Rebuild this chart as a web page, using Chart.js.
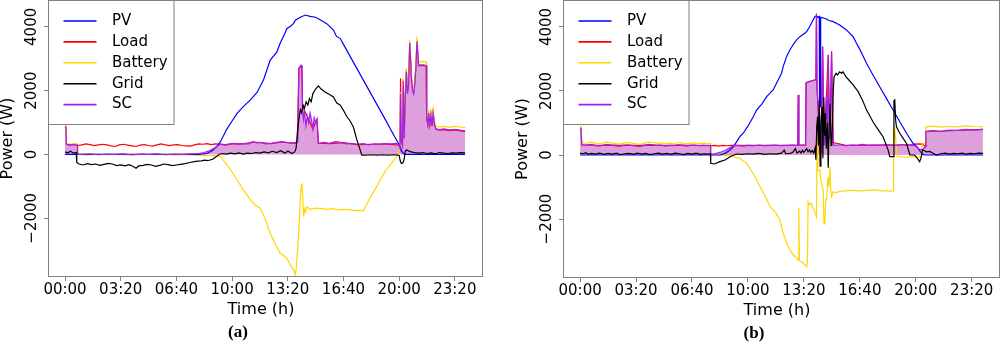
<!DOCTYPE html>
<html>
<head>
<meta charset="utf-8">
<script src="https://cdn.jsdelivr.net/npm/chart.js@4.4.0/dist/chart.umd.min.js"></script>
<style>
html, body { margin: 0; padding: 0; background: #fff; }
#wrap { position: relative; width: 1000px; height: 345px; }
.panel { position: absolute; top: 0; width: 500px; height: 345px; }
</style>
</head>
<body>
<div id="wrap">
  <div class="panel" style="left:0"><canvas id="chartA" width="500" height="345"></canvas></div>
  <div class="panel" style="left:500px"><canvas id="chartB" width="500" height="345"></canvas></div>
</div>
<script>
// time in minutes since midnight, power in W
const timeTicks = [0, 200, 400, 600, 800, 1000, 1200, 1400];
const powerTicks = [-2000, 0, 2000, 4000];
const seriesNames = ['PV', 'Load', 'Battery', 'Grid', 'SC'];
const seriesColors = ['#0000FF', '#FF0000', '#FFD700', '#000000', '#A020F0'];
const drawOrder = [2, 4, 3, 0, 1];   // lower = drawn on top
const scFill = '#DDA0DD';

// ---- panel (a) ----
const pvA = [[0,0],[100,0],[200,0],[300,0],[400,0],[480,0],[510,30],[530,120],[545,250],[558,400],[570,600],[580,780],[600,1050],[618,1290],[640,1500],[666,1710],[690,1950],[713,2340],[737,2960],[760,3200],[773,3490],[790,3800],[797,3950],[810,4020],[821,4110],[827,4210],[845,4300],[863,4370],[880,4330],[900,4300],[916,4220],[940,4100],[964,3900],[975,3700],[988,3640],[1000,3450],[1030,2980],[1060,2510],[1090,2040],[1120,1570],[1150,1100],[1180,620],[1197,350],[1205,200],[1212,60],[1220,0],[1300,0],[1437,0]];
const loadA = [[0,900],[3,880],[5,330],[15,290],[30,320],[45,280],[60,300],[75,330],[90,310],[105,280],[120,300],[135,320],[150,300],[165,270],[180,250],[195,300],[210,320],[225,290],[240,270],[255,250],[270,290],[285,310],[300,280],[315,260],[330,300],[345,330],[360,300],[375,280],[390,300],[405,310],[420,280],[435,270],[450,260],[465,300],[480,330],[495,320],[510,340],[525,310],[540,330],[558,320],[575,290],[605,340],[640,330],[675,390],[705,370],[740,340],[780,390],[820,350],[834,400],[840,2700],[851,2750],[853,1500],[870,1200],[890,800],[905,1100],[910,350],[950,340],[1000,370],[1050,310],[1100,320],[1150,330],[1200,290],[1203,200],[1205,2390],[1208,450],[1212,300],[1215,2350],[1218,520],[1222,1850],[1226,2620],[1230,1950],[1234,2250],[1238,3480],[1241,3000],[1244,2450],[1248,2050],[1252,1950],[1256,2250],[1260,2700],[1264,3500],[1267,3150],[1270,2780],[1285,2790],[1297,2770],[1299,1130],[1303,940],[1306,1280],[1310,940],[1314,1230],[1318,890],[1322,1280],[1327,940],[1332,790],[1345,760],[1360,780],[1380,750],[1400,770],[1420,740],[1437,720]];
const batA = [[0,900],[3,870],[5,350],[20,320],[40,340],[44,330],[46,0],[80,-20],[120,10],[160,-10],[200,0],[240,-20],[280,10],[320,-10],[360,0],[400,-20],[440,-10],[480,-30],[520,-40],[545,-30],[558,-70],[580,-300],[600,-550],[618,-800],[640,-1100],[666,-1430],[685,-1600],[702,-1690],[720,-2050],[737,-2470],[755,-2800],[773,-3100],[790,-3200],[797,-3260],[809,-3460],[820,-3600],[824,-3700],[827,-3780],[830,-3600],[836,-2900],[842,-2000],[846,-1200],[849,-950],[851,-900],[854,-1400],[857,-1950],[860,-1700],[864,-1800],[869,-1640],[880,-1720],[900,-1680],[916,-1690],[940,-1720],[960,-1700],[980,-1740],[1000,-1720],[1020,-1730],[1040,-1750],[1060,-1760],[1071,-1770],[1090,-1450],[1110,-1150],[1132,-800],[1150,-520],[1170,-300],[1191,-70],[1200,150],[1203,260],[1205,1950],[1208,480],[1212,380],[1215,2380],[1218,580],[1222,1900],[1226,2700],[1230,2000],[1234,2300],[1238,3600],[1241,3100],[1244,2500],[1248,2100],[1252,2000],[1256,2300],[1260,2800],[1264,3700],[1267,3300],[1270,2900],[1285,2920],[1297,2900],[1299,1250],[1303,1050],[1306,1400],[1310,1050],[1314,1350],[1318,1000],[1322,1400],[1327,1050],[1332,880],[1345,860],[1360,880],[1380,850],[1400,880],[1420,860],[1437,840]];
const gridA = [[0,80],[10,50],[20,100],[30,40],[40,60],[42,-250],[50,-300],[65,-330],[80,-290],[95,-320],[110,-300],[125,-340],[140,-310],[155,-280],[170,-300],[185,-350],[200,-330],[215,-360],[230,-320],[245,-380],[255,-430],[265,-360],[280,-340],[295,-310],[310,-330],[325,-370],[340,-340],[355,-300],[370,-320],[385,-350],[400,-330],[415,-310],[430,-290],[445,-260],[460,-230],[475,-210],[490,-200],[500,-180],[515,-190],[530,-150],[545,-60],[553,0],[565,30],[580,10],[595,40],[610,20],[625,50],[640,10],[655,40],[670,30],[685,60],[700,40],[715,80],[730,50],[745,100],[760,60],[775,120],[790,40],[800,110],[815,30],[825,80],[830,200],[835,700],[840,1100],[845,1400],[850,1300],[855,1550],[860,1450],[866,1650],[872,1550],[878,1750],[884,1650],[890,1900],[900,2050],[910,2150],[920,2050],[935,1950],[950,1880],[964,1800],[976,1610],[988,1550],[1000,1380],[1012,1190],[1024,1050],[1036,850],[1048,460],[1058,200],[1066,-20],[1080,-20],[1100,-10],[1120,-20],[1140,-10],[1160,-20],[1180,-10],[1195,-20],[1200,-30],[1204,-200],[1208,-280],[1214,-260],[1218,-150],[1222,100],[1226,140],[1240,90],[1255,60],[1270,40],[1285,60],[1300,30],[1315,50],[1330,20],[1345,60],[1360,40],[1375,30],[1390,50],[1405,40],[1420,60],[1437,50]];
const scA = [[0,870],[3,850],[5,320],[15,300],[25,310],[35,290],[44,300],[45,10],[60,0],[90,20],[120,-10],[150,10],[180,0],[210,20],[240,-10],[270,10],[300,0],[330,20],[360,-10],[390,10],[420,0],[450,20],[480,30],[500,60],[520,120],[540,220],[558,330],[575,300],[590,330],[605,350],[620,320],[640,340],[660,330],[675,400],[690,360],[705,380],[720,330],[740,350],[760,380],[780,400],[800,370],[820,360],[830,340],[836,400],[840,2700],[848,2800],[851,2750],[853,1500],[856,1100],[860,1350],[865,900],[870,1200],[875,1000],[880,1300],[885,1100],[890,800],[895,1150],[900,1000],[905,1100],[910,350],[930,380],[950,350],[970,400],[990,380],[1010,330],[1030,350],[1050,320],[1070,340],[1090,300],[1110,330],[1130,320],[1150,340],[1170,330],[1190,350],[1200,300],[1203,200],[1205,1900],[1208,400],[1212,300],[1215,2300],[1218,500],[1222,1800],[1226,2600],[1230,1900],[1234,2200],[1238,3500],[1241,3000],[1244,2400],[1248,2000],[1252,1900],[1256,2200],[1260,2700],[1264,3550],[1267,3200],[1270,2800],[1285,2810],[1297,2790],[1299,1150],[1303,950],[1306,1300],[1310,950],[1314,1250],[1318,900],[1322,1300],[1327,950],[1332,800],[1345,780],[1360,800],[1380,770],[1400,790],[1420,760],[1437,740]];

// ---- panel (b) ----
const pvB = [[0,0],[100,0],[200,0],[300,0],[400,0],[500,0],[520,60],[535,150],[548,260],[560,420],[571,572],[583,680],[600,900],[619,1197],[631,1406],[650,1600],[667,1822],[690,2031],[700,2200],[714,2447],[720,2553],[726,2760],[738,3072],[750,3281],[762,3450],[774,3594],[786,3697],[803,3803],[810,3853],[820,4000],[833,4219],[839,4322],[845,4350],[850,4300],[855,4330],[856,1550],[858,1500],[860,4300],[870,4280],[880,4250],[890,4200],[905,4166],[928,4063],[952,3906],[976,3697],[988,3490],[1000,3300],[1024,2866],[1047,2500],[1071,2134],[1095,1770],[1119,1406],[1143,1040],[1167,678],[1190,366],[1205,250],[1215,120],[1225,20],[1235,0],[1300,0],[1440,0]];
const loadB = [[0,860],[3,850],[6,320],[60,300],[120,310],[180,300],[240,310],[300,300],[360,310],[420,300],[466,300],[467,290],[480,300],[495,280],[510,300],[525,290],[540,300],[548,300],[600,300],[700,300],[778,300],[780,1880],[782,310],[806,310],[808,2260],[843,2360],[845,4420],[847,2100],[860,60],[867,3390],[873,310],[887,3130],[893,510],[899,3240],[905,390],[950,300],[1050,310],[1150,320],[1190,320],[1196,340],[1210,350],[1225,340],[1234,260],[1236,740],[1300,750],[1440,800]];
const batB = [[0,900],[3,880],[6,380],[20,360],[35,400],[50,380],[65,350],[80,370],[95,400],[110,380],[125,360],[140,340],[155,370],[170,390],[185,370],[200,350],[215,340],[230,370],[245,400],[260,390],[275,370],[290,380],[305,350],[320,370],[335,360],[350,390],[365,370],[380,350],[395,370],[410,380],[425,360],[440,370],[455,360],[466,370],[467,60],[480,20],[500,0],[520,-10],[540,-20],[548,-40],[560,-80],[571,-104],[595,-260],[620,-600],[643,-990],[660,-1250],[679,-1615],[700,-1800],[714,-2031],[725,-2400],[738,-2760],[750,-2950],[762,-3125],[772,-3200],[780,-3280],[782,-1650],[784,-3300],[792,-3334],[800,-3400],[806,-3450],[810,-3490],[813,-3300],[815,-1460],[820,-1550],[825,-1500],[833,-1660],[840,-1800],[845,-1930],[847,500],[850,-500],[857,-470],[863,-900],[869,-1094],[872,-2150],[875,-2134],[878,-1400],[881,-1406],[886,-700],[889,-1000],[893,-365],[896,-1100],[899,-1303],[905,-1150],[915,-1180],[930,-1130],[950,-1120],[970,-1100],[990,-1110],[1010,-1120],[1030,-1100],[1050,-1090],[1070,-1110],[1090,-1120],[1110,-1130],[1119,-1120],[1121,600],[1124,880],[1128,500],[1133,-40],[1140,-60],[1160,-70],[1180,-60],[1200,-60],[1214,-50],[1220,120],[1225,370],[1234,360],[1236,880],[1260,900],[1290,870],[1320,890],[1350,880],[1380,910],[1410,890],[1440,880]];
const gridB = [[0,60],[10,40],[20,70],[30,20],[40,50],[55,30],[70,60],[85,20],[100,50],[115,30],[130,60],[145,10],[160,40],[175,50],[190,20],[205,60],[220,30],[235,50],[250,10],[265,40],[280,60],[295,30],[310,50],[325,20],[340,60],[355,40],[370,10],[385,50],[400,30],[415,60],[430,20],[445,40],[460,30],[466,40],[467,-260],[480,-280],[500,-208],[520,-150],[536,-52],[550,0],[560,31],[580,20],[600,40],[620,30],[640,50],[660,20],[680,40],[700,30],[720,60],[730,150],[735,40],[750,50],[760,80],[770,200],[775,60],[785,120],[790,60],[795,150],[800,80],[810,200],[815,100],[820,160],[825,80],[830,140],[835,60],[840,220],[843,-150],[846,900],[849,1200],[852,300],[855,1700],[858,-350],[861,1000],[865,1500],[868,-100],[871,1800],[874,600],[877,1300],[880,200],[884,1000],[887,-400],[890,800],[894,1600],[897,300],[900,500],[903,1200],[905,2000],[908,2450],[915,2550],[920,2500],[928,2600],[935,2550],[940,2600],[950,2450],[960,2350],[976,2190],[994,1980],[1010,1700],[1024,1410],[1047,1040],[1065,800],[1083,570],[1095,300],[1101,160],[1107,-50],[1119,-50],[1122,1700],[1125,1720],[1128,1100],[1131,880],[1143,680],[1155,520],[1167,360],[1179,0],[1196,0],[1205,-100],[1214,-210],[1220,-50],[1224,160],[1230,140],[1238,100],[1250,110],[1260,60],[1274,0],[1290,40],[1305,60],[1320,30],[1335,50],[1350,40],[1365,60],[1380,30],[1395,50],[1410,40],[1425,60],[1440,50]];
const scB = [[0,840],[3,820],[6,320],[20,300],[35,330],[50,310],[65,280],[80,300],[95,330],[110,310],[125,290],[140,270],[155,300],[170,320],[185,300],[200,280],[215,270],[230,300],[245,330],[260,320],[275,300],[290,310],[305,280],[320,300],[335,290],[350,320],[365,300],[380,280],[395,300],[410,310],[425,290],[440,300],[455,290],[466,300],[467,20],[480,40],[500,80],[520,150],[536,230],[548,290],[560,300],[580,280],[600,300],[620,290],[640,310],[660,290],[680,300],[700,310],[720,290],[740,300],[760,310],[778,300],[780,1870],[782,300],[806,310],[808,2250],[820,2300],[830,2320],[843,2350],[845,4380],[847,2100],[851,1500],[855,300],[860,50],[864,400],[867,3380],[870,1500],[873,300],[877,600],[880,1800],[884,900],[887,3120],[890,1200],[893,500],[896,1600],[899,3230],[902,1200],[905,380],[910,300],[930,320],[950,290],[970,310],[990,300],[1010,330],[1030,300],[1050,310],[1070,300],[1090,320],[1110,310],[1130,300],[1150,320],[1170,300],[1190,310],[1205,250],[1215,160],[1225,180],[1234,250],[1236,730],[1260,760],[1290,740],[1320,780],[1350,770],[1380,800],[1410,780],[1440,800]];

const axisGray = '#808080';

function hhmm(m) {
    const h = Math.floor(m / 60), mm = m % 60;
    return String(h).padStart(2, '0') + ':' + String(mm).padStart(2, '0');
}

// box, rotated y labels, titles, caption and the in-plot legend
const panelDecor = {
    id: 'panelDecor',
    afterDraw(chart, args, opts) {
        const ctx = chart.ctx, a = chart.chartArea, ys = chart.scales.y;
        ctx.save();
        ctx.strokeStyle = axisGray;
        ctx.lineWidth = 1;
        ctx.strokeRect(a.left - 0.5, a.top - 0.5, a.right - a.left + 1, a.bottom - a.top + 1);

        ctx.fillStyle = '#000';
        ctx.font = '15px "DejaVu Sans"';
        ctx.textAlign = 'center';
        ctx.textBaseline = 'middle';
        powerTicks.forEach(v => {
            ctx.save();
            ctx.translate(a.left - 17, ys.getPixelForValue(v));
            ctx.rotate(-Math.PI / 2);
            ctx.fillText(v < 0 ? '\u2212' + Math.abs(v) : String(v), 0, 0);
            ctx.restore();
        });

        const cx = (a.left + a.right) / 2;
        ctx.font = '16px "DejaVu Sans"';
        ctx.fillText('Time (h)', cx - 4.5, a.bottom + 34);
        ctx.save();
        ctx.translate(a.left - 41, (a.top + a.bottom) / 2);
        ctx.rotate(-Math.PI / 2);
        ctx.fillText('Power (W)', 0, 0);
        ctx.restore();

        ctx.font = 'bold 17px "Liberation Serif"';
        ctx.fillText(opts.caption, cx - 27.5, a.bottom + 57);

        // legend
        const lx = a.left, ly = a.top;
        ctx.fillStyle = '#fff';
        ctx.fillRect(lx, ly, 125, 123);
        ctx.strokeStyle = axisGray;
        ctx.strokeRect(lx - 0.5, ly - 0.5, 125.5, 124);
        ctx.font = '15px "DejaVu Sans"';
        ctx.textAlign = 'left';
        chart.data.datasets.forEach((ds, i) => {
            const y = 21 + i * 20.9;
            ctx.strokeStyle = ds.borderColor;
            ctx.lineWidth = 1.6;
            ctx.beginPath();
            ctx.moveTo(lx + 14.5, y);
            ctx.lineTo(lx + 47.5, y);
            ctx.stroke();
            ctx.fillStyle = '#000';
            ctx.fillText(ds.label, lx + 63, y);
        });
        ctx.restore();
    }
};

function makePanel(id, series, caption, padLeft, padRight, xHeight) {
    const datasets = series.map((d, i) => ({
        label: seriesNames[i],
        data: d.map(p => ({ x: p[0], y: p[1] })),
        borderColor: seriesColors[i],
        backgroundColor: i === 4 ? scFill : seriesColors[i],
        borderWidth: 1.2,
        pointRadius: 0,
        tension: 0,
        fill: i === 4 ? 'origin' : false,
        order: drawOrder[i]
    }));
    return new Chart(document.getElementById(id), {
        type: 'line',
        data: { datasets: datasets },
        options: {
            responsive: false,
            animation: false,
            layout: { padding: { left: padLeft, right: padRight, top: 1, bottom: 0 } },
            plugins: {
                legend: { display: false },
                tooltip: { enabled: false },
                filler: { drawTime: 'beforeDatasetsDraw' },
                panelDecor: { caption: caption }
            },
            scales: {
                x: {
                    type: 'linear',
                    min: -57.6,
                    max: 1497.6,
                    afterBuildTicks: s => { s.ticks = timeTicks.map(v => ({ value: v })); },
                    afterFit: s => { s.height = xHeight; },
                    grid: { drawOnChartArea: false, tickLength: 5, color: axisGray },
                    border: { display: false },
                    ticks: {
                        autoSkip: false, maxRotation: 0, padding: 0, color: '#000',
                        font: { family: 'DejaVu Sans', size: 15 },
                        callback: v => hhmm(v)
                    }
                },
                y: {
                    type: 'linear',
                    min: -3810,
                    max: 4810,
                    afterBuildTicks: s => { s.ticks = powerTicks.map(v => ({ value: v })); },
                    afterFit: s => { s.width = 49; },
                    grid: { drawOnChartArea: false, tickLength: 5, color: axisGray },
                    border: { display: false },
                    ticks: { display: false }
                }
            }
        },
        plugins: [panelDecor]
    });
}

makePanel('chartA', [pvA, loadA, batA, gridA, scA], '(a)', 0, 18, 69);
makePanel('chartB', [pvB, loadB, batB, gridB, scB], '(b)', 15, 1, 68);
</script>
</body>
</html>
